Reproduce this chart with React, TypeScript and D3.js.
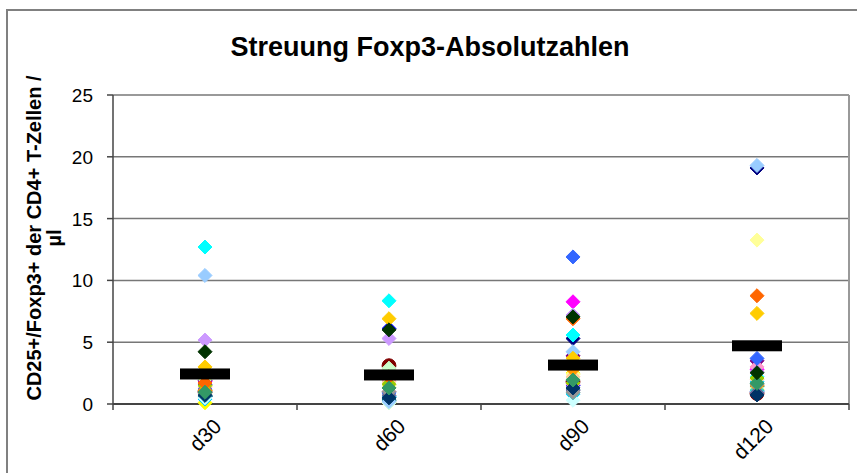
import React from "react";
import * as d3 from "d3";

const categories = ["d30", "d60", "d90", "d120"];
const yTicks = [0, 5, 10, 15, 20, 25];
const meanValues = [2.43, 2.35, 3.15, 4.71];

const seriesNames = [
  "P1", "P2", "P3", "P4", "P5", "P6", "P7", "P8", "P9", "P10", "P11", "P12", "P13", "P14",
  "P15", "P16", "P17", "P18", "P19", "P20", "P21", "P22", "P23", "P24", "P25", "P26", "P27",
];
const seriesColors = [
  "#000080", "#FF00FF", "#FFFF00", "#00FFFF", "#800080", "#800000", "#008080", "#0000FF",
  "#00CCFF", "#CCFFFF", "#CCFFCC", "#FFFF99", "#99CCFF", "#FF99CC", "#CC99FF", "#FFCC99",
  "#3366FF", "#33CCCC", "#99CC00", "#FFCC00", "#FF9900", "#FF6600", "#666699", "#969696",
  "#003366", "#339966", "#003300",
];
const seriesValues: number[][] = [
  [0.6, 0.4, 5.3, 19.1],
  [1.8, 2.0, 8.27, 2.8],
  [0.1, 0.1, 2.5, 1.2],
  [12.7, 8.35, 5.58, 2.2],
  [1.9, 2.0, 3.9, 3.5],
  [1.0, 3.1, 1.8, 0.85],
  [0.6, 0.3, 1.2, 1.4],
  [1.6, 6.1, 1.5, 1.0],
  [0.4, 0.6, 0.8, 1.8],
  [0.5, 0.1, 0.3, 1.0],
  [2.0, 2.9, 2.0, 1.3],
  [2.1, 1.5, 2.4, 13.26],
  [10.4, 0.2, 4.23, 19.3],
  [1.3, 1.0, 1.6, 3.0],
  [5.17, 5.3, 7.2, 2.6],
  [1.4, 1.8, 2.2, 2.0],
  [1.2, 0.9, 11.9, 3.69],
  [0.7, 0.5, 0.9, 1.1],
  [1.5, 1.6, 1.7, 2.1],
  [3.0, 6.9, 3.7, 7.33],
  [1.1, 1.3, 2.8, 1.5],
  [1.7, 2.2, 6.9, 8.76],
  [0.9, 0.7, 1.1, 0.9],
  [0.8, 1.0, 0.95, 1.6],
  [0.7, 0.5, 1.3, 0.73],
  [0.95, 1.3, 1.94, 1.67],
  [4.23, 6.0, 7.05, 2.53],
];

const W = 857;
const H = 473;
const font = "'Liberation Sans', Arial, sans-serif";

export default function App() {
  const x = d3.scaleBand<string>().domain(categories).range([113, 849]);
  const y = d3.scaleLinear().domain([0, 25]).range([404, 95]);
  const bw = x.bandwidth();
  const diamond = d3.symbol().type(d3.symbolDiamond2).size(125)();
  const circle = d3.symbol().type(d3.symbolCircle).size(150)();

  return (
    <svg width={W} height={H} style={{ position: "absolute", left: 0, top: 0, background: "#fff" }}>
      <rect x={0} y={0} width={W} height={H} fill="#fff" />
      {/* outer chart border */}
      <path d={`M7,${H + 5} V10 H${W + 5}`} fill="none" stroke="#808080" strokeWidth={2} />
      {/* title */}
      <text x={430} y={56} textAnchor="middle" fontFamily={font} fontWeight="bold" fontSize={27}>
        Streuung Foxp3-Absolutzahlen
      </text>
      {/* gridlines */}
      {yTicks.filter((t) => t > 0).map((t) => (
        <line key={t} x1={113} x2={849} y1={y(t)} y2={y(t)} stroke="#777" strokeWidth={1.5} />
      ))}
      {/* right border */}
      <line x1={849} x2={849} y1={y(25)} y2={y(0)} stroke="#999" strokeWidth={2} />
      {/* y axis */}
      <line x1={113} x2={113} y1={y(25)} y2={y(0)} stroke="#444" strokeWidth={1.5} />
      {yTicks.map((t) => (
        <g key={t}>
          <line x1={107} x2={113} y1={y(t)} y2={y(t)} stroke="#444" strokeWidth={1.5} />
          <text x={93} y={y(t) + 7} textAnchor="end" fontFamily={font} fontSize={19}>
            {t}
          </text>
        </g>
      ))}
      {/* x axis */}
      <line x1={113} x2={849} y1={y(0)} y2={y(0)} stroke="#444" strokeWidth={2} />
      {categories.map((c) => (
        <line key={c} x1={x(c)!} x2={x(c)!} y1={y(0)} y2={y(0) + 6} stroke="#444" strokeWidth={1.5} />
      ))}
      <line x1={849} x2={849} y1={y(0)} y2={y(0) + 6} stroke="#444" strokeWidth={1.5} />
      {categories.map((c) => {
        const cx = x(c)! + bw / 2 + 7;
        const cy = y(0) + 13;
        return (
          <text key={c} x={cx} y={cy} transform={`rotate(-45, ${cx}, ${cy})`} textAnchor="end"
            dominantBaseline="hanging" fontFamily={font} fontSize={21}>
            {c}
          </text>
        );
      })}
      {/* y axis label */}
      <text transform="translate(41, 238) rotate(-90)" textAnchor="middle" fontFamily={font}
        fontWeight="bold" fontSize={20}>
        <tspan x={0} dy={0}>CD25+/Foxp3+ der CD4+ T-Zellen /</tspan>
        <tspan x={0} dy={20}>µl</tspan>
      </text>
      {/* points */}
      {seriesValues.map((vals, si) => (
        <g key={seriesNames[si]}>
          {vals.map((v, ci) => (
            <path key={ci} d={seriesColors[si] === "#800000" ? circle : diamond}
              transform={`translate(${x(categories[ci])! + bw / 2}, ${y(v)})`}
              fill={seriesColors[si]} stroke={seriesColors[si]} strokeWidth={1} />
          ))}
        </g>
      ))}
      {/* mean bars */}
      {meanValues.map((m, ci) => (
        <rect key={ci} x={x(categories[ci])! + bw / 2 - 25} y={y(m) - 5.5} width={50} height={11} fill="#000" />
      ))}
    </svg>
  );
}
